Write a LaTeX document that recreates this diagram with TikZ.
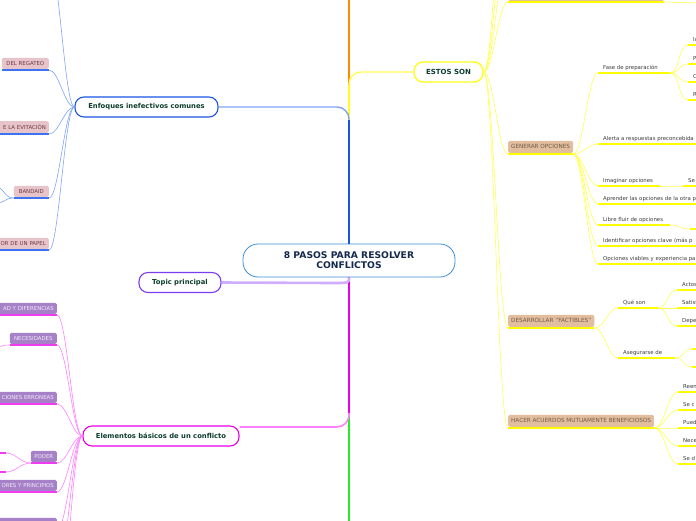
\documentclass[tikz,border=0pt]{standalone}
\usepackage{fontspec}
\setmainfont{DejaVu Sans}
\usepackage{xcolor}

\definecolor{orangebr}{HTML}{FF8C00}
\definecolor{yellowbr}{HTML}{FFFF1A}
\definecolor{yellowln}{HTML}{FFFF55}
\definecolor{yellowul}{HTML}{FFFF00}
\definecolor{bluebr}{HTML}{1A55E3}
\definecolor{blueln}{HTML}{7FA4F7}
\definecolor{blueul}{HTML}{3D73F2}
\definecolor{purplebr}{HTML}{7B3DF2}
\definecolor{purpleln}{HTML}{CFAEFF}
\definecolor{magentabr}{HTML}{E800E8}
\definecolor{magentaln}{HTML}{FF80FF}
\definecolor{magentaul}{HTML}{F03CF0}
\definecolor{greenbr}{HTML}{22EE22}
\definecolor{rootline}{HTML}{3B8ED3}
\definecolor{roottext}{HTML}{15294D}
\definecolor{titletext}{HTML}{0C3D2D}
\definecolor{pinkfill}{HTML}{E7C4C9}
\definecolor{pinktext}{HTML}{6E3A44}
\definecolor{violetfill}{HTML}{A681C8}
\definecolor{violettext}{HTML}{F2EAF8}
\definecolor{tanfill}{HTML}{E2BE9E}
\definecolor{tantext}{HTML}{6E5A48}
\definecolor{leaftext}{HTML}{3C3C3C}

\tikzset{
    root/.style={draw=rootline, line width=0.8pt, fill=white, rounded corners=15pt,
        minimum width=212pt, minimum height=33pt, align=center, text=roottext,
        font=\bfseries\fontsize{9.2}{10}\selectfont},
    topic/.style={draw=#1, line width=1.1pt, fill=white, rounded corners=9pt,
        minimum height=20pt, text=titletext, font=\bfseries\fontsize{6.8}{7}\selectfont},
    tanbox/.style={fill=tanfill, text=tantext, rounded corners=1.5pt, minimum height=12pt,
        inner xsep=3pt, anchor=south west, font=\fontsize{5.7}{6}\selectfont},
    pinkbox/.style={fill=pinkfill, text=pinktext, rounded corners=1.5pt, minimum height=11pt,
        inner xsep=3pt, anchor=south east, font=\fontsize{5.4}{6}\selectfont},
    violetbox/.style={pinkbox, fill=violetfill, text=violettext},
    leaf/.style={anchor=south west, inner xsep=5pt, inner ysep=2pt, text height=3.9pt,
        text depth=1.1pt, text=leaftext, font=\fontsize{5.4}{6}\selectfont},
    uline/.style={draw=#1, line width=2pt},
    uline/.default=yellowul,
    twig/.style={draw=#1, line width=0.6pt},
    limb/.style={draw=#1, line width=1.4pt},
    stem/.style={draw=#1, line width=2.6pt},
}

% leaf: name, x, y, underline length, text
\newcommand{\leaf}[5]{
    \node[leaf] (#1) at (#2,#3) {#5};
    \draw[uline] (#1.south west) -- ++(#4,0) coordinate (#1-end);
}
% curved links, to the right and to the left
\newcommand{\rlink}[3]{\draw[twig=#1] (#2) .. controls +(10,0) and +(-10,0) .. (#3);}
\newcommand{\llink}[3]{\draw[twig=#1] (#2) .. controls +(-10,0) and +(10,0) .. (#3);}

\begin{document}
\begin{tikzpicture}[x=1pt,y=-1pt]
    \useasboundingbox (0,0) rectangle (696,520);
    \clip (0,0) rectangle (696,520);

    % main topics
    \node[root] (root) at (349,260.5) {8 PASOS PARA RESOLVER\\CONFLICTOS};
    \node[topic=yellowbr, minimum width=69pt, line width=1.4pt, font=\bfseries\fontsize{7}{7}\selectfont] (est) at (448.5,72) {ESTOS SON};
    \node[topic=bluebr, minimum width=143pt] (enf) at (146.5,107) {Enfoques inefectivos comunes};
    \node[topic=purplebr, minimum width=82pt] (tp) at (180,282.5) {Topic principal};
    \node[topic=magentabr, minimum width=156pt] (el) at (161,436) {Elementos básicos de un conflicto};

    % trunk
    \coordinate (orout) at (349,-5);
    \coordinate (grout) at (349,530);
    \draw[stem=orangebr] (root.north) -- (orout);
    \draw[limb=yellowln, rounded corners=12pt] (root.north) |- (est.west);
    \draw[stem=yellowbr] (root.north) -- (349,85);
    \draw[limb=blueln, rounded corners=12pt] (root.north) |- (enf.east);
    \draw[stem=bluebr] (root.north) -- (349,120);
    \draw[stem=greenbr] (root.south) -- (grout);
    \draw[limb=magentaln, line width=1.6pt, rounded corners=12pt] (root.south) |- ([yshift=-1.5pt]el.north east);
    \draw[stem=magentabr] (root.south) -- (349,413);
    \draw[limb=purpleln, line width=2.6pt] (root.south) .. controls (349,283) and (349,283) .. (333,283) -- (tp.east);

    % ESTOS SON
    \node[tanbox, minimum width=156pt] (top) at (508,1) {};
    \node[tanbox] (gen) at (508,153) {GENERAR OPCIONES};
    \node[tanbox] (des) at (508,327) {DESARROLLAR "FACTIBLES"};
    \node[tanbox] (hac) at (508,427) {HACER ACUERDOS MUTUAMENTE BENEFICIOSOS};
    \foreach \n in {top,gen,des,hac}{
        \draw[uline] ([yshift=-1pt]\n.south west) -- ([yshift=-1pt]\n.south east);
        \rlink{yellowln}{est.east}{[yshift=-1pt]\n.south west}
    }
    \foreach \y [count=\i] in {-40,-90,-150}{
        \coordinate (up\i) at (508,\y);
        \rlink{yellowln}{est.east}{up\i}
    }
    \coordinate (topout) at (700,3);
    \draw[twig=yellowln] ([yshift=-1pt]top.south east) -- (topout);

    % GENERAR OPCIONES
    \leaf{fase}{598}{73}{72}{Fase de preparación}
    \leaf{ale}{598}{144}{100}{Alerta a respuestas preconcebida}
    \leaf{ima}{598}{186}{62}{Imaginar opciones}
    \leaf{se}{683}{186}{15}{Se}
    \leaf{apr}{598}{204}{100}{Aprender las opciones de la otra p}
    \leaf{lib}{598}{225}{72}{Libre fluir de opciones}
    \leaf{lib2}{690}{229}{10}{}
    \leaf{ide}{598}{246}{100}{Identificar opciones clave (más p}
    \leaf{opc}{598}{264}{100}{Opciones viables y experiencia pa}
    \foreach \n in {fase,ale,ima,apr,lib,ide,opc}
        \rlink{yellowln}{[yshift=-1pt]gen.south east}{\n.south west};
    \rlink{yellowln}{ima-end}{se.south west}
    \rlink{yellowln}{lib-end}{lib2.south west}
    \foreach \y/\t in {45/Id,64/P,82/C,100/R}{
        \leaf{fa\y}{688}{\y}{10}{\t}
        \rlink{yellowln}{fase-end}{fa\y.south west}
    }

    % DESARROLLAR
    \leaf{que}{618}{308}{40}{Qué son}
    \leaf{ase}{618}{358}{57}{Asegurarse de}
    \rlink{yellowln}{[yshift=-1pt]des.south east}{que.south west}
    \rlink{yellowln}{[yshift=-1pt]des.south east}{ase.south west}
    \foreach \y/\t in {290/Actos,308/Satisf,326/Depen}{
        \leaf{q\y}{677}{\y}{20}{\t}
        \rlink{yellowln}{que-end}{q\y.south west}
    }
    \foreach \y in {349,367}{
        \leaf{a\y}{692}{\y}{10}{}
        \rlink{yellowln}{ase-end}{a\y.south west}
    }

    % HACER ACUERDOS
    \foreach \y/\t in {392/Reen,410/Se c,428/Pued,446/Nece,464/Se d}{
        \leaf{h\y}{678}{\y}{20}{\t}
        \rlink{yellowln}{[yshift=-1pt]hac.south east}{h\y.south west}
    }

    % Enfoques inefectivos
    \node[pinkbox, minimum width=47pt] (reg) at (49,69) {DEL REGATEO};
    \node[pinkbox, text width=70pt, align=right] (evi) at (49,133) {E LA EVITACIÓN};
    \node[pinkbox, minimum width=35pt] (ban) at (49,197) {BANDAID};
    \node[pinkbox, text width=70pt, align=right] (pap) at (49,249) {OR DE UN PAPEL};
    \foreach \n in {reg,evi,ban,pap}{
        \draw[uline=blueul] ([yshift=-1pt]\n.south west) -- ([yshift=-1pt]\n.south east);
        \llink{blueln}{enf.west}{[yshift=-1pt]\n.south east}
    }
    \coordinate (enfup) at (49,-40);
    \llink{blueln}{enf.west}{enfup}
    \coordinate (ban1) at (-6,186);
    \coordinate (ban2) at (-6,204);
    \llink{blueln}{[yshift=-1pt]ban.south west}{ban1}
    \llink{blueln}{[yshift=-1pt]ban.south west}{ban2}

    % Elementos basicos
    \node[violetbox, text width=70pt, align=right] (dif) at (57,314) {AD Y DIFERENCIAS};
    \node[violetbox, minimum width=47pt] (nec) at (57,344) {NECESIDADES};
    \node[violetbox, text width=70pt, align=right] (err) at (57,403) {CIONES ERRONEAS};
    \node[violetbox, minimum width=26pt] (pod) at (57,462) {PODER};
    \node[violetbox, text width=70pt, align=right] (pri) at (57,491) {ORES Y PRINCIPIOS};
    \node[violetbox, minimum width=70pt] (bot) at (57,529) {};
    \foreach \n in {dif,nec,err,pod,pri,bot}{
        \draw[uline=magentaul] ([yshift=-1pt]\n.south west) -- ([yshift=-1pt]\n.south east);
        \llink{magentaln}{el.west}{[yshift=-1pt]\n.south east}
    }
    \foreach \y [count=\i] in {570,620}{
        \coordinate (eldown\i) at (57,\y);
        \llink{magentaln}{el.west}{eldown\i}
    }
    \coordinate (nec1) at (-6,347);
    \llink{magentaln}{[yshift=-1pt]nec.south west}{nec1}
    \coordinate (pod1) at (6,453);
    \coordinate (pod2) at (6,472);
    \draw[uline=magentaul] (pod1) -- ++(-30,0);
    \draw[uline=magentaul] (pod2) -- ++(-30,0);
    \llink{magentaln}{[yshift=-1pt]pod.south west}{pod1}
    \llink{magentaln}{[yshift=-1pt]pod.south west}{pod2}
\end{tikzpicture}
\end{document}
